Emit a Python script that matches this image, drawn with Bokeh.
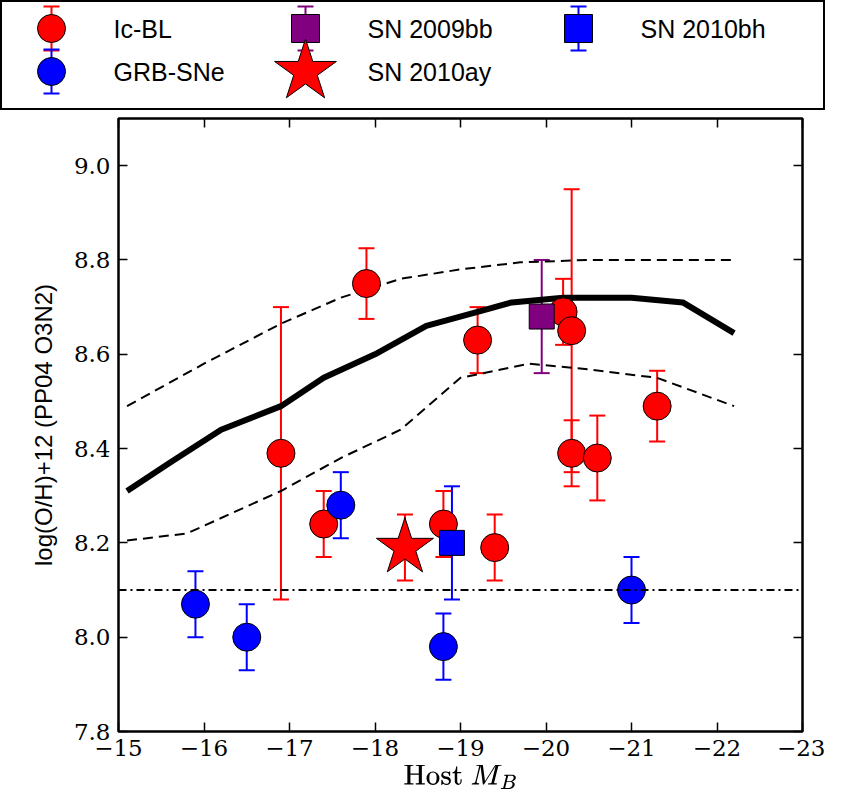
from bokeh.plotting import figure
from bokeh.models import (ColumnDataSource, Whisker, TeeHead, Range1d,
                          LinearAxis, CustomJSTickFormatter, FixedTicker, Span)
from bokeh.core.properties import value
from bokeh.layouts import column, row
from bokeh.embed import file_html
from bokeh.resources import INLINE

# Ic-BL
icbl_x = [-16.9, -17.4, -17.9, -18.8, -19.2, -19.4, -20.2, -20.3, -20.3, -20.6, -21.3]
icbl_y = [8.39, 8.24, 8.75, 8.24, 8.63, 8.19, 8.69, 8.65, 8.39, 8.38, 8.49]
icbl_lo = [8.08, 8.17, 8.675, 8.17, 8.56, 8.12, 8.62, 8.35, 8.32, 8.29, 8.415]
icbl_hi = [8.70, 8.31, 8.825, 8.31, 8.70, 8.26, 8.76, 8.95, 8.46, 8.47, 8.565]
# GRB-SNe
grb_x = [-15.9, -16.5, -17.6, -18.8, -21.0]
grb_y = [8.07, 8.00, 8.28, 7.98, 8.10]
grb_lo = [8.00, 7.93, 8.21, 7.91, 8.03]
grb_hi = [8.14, 8.07, 8.35, 8.05, 8.17]
# single objects
bb_x, bb_y, bb_lo, bb_hi = [-19.95], [8.68], [8.56], [8.80]
bh_x, bh_y, bh_lo, bh_hi = [-18.9], [8.20], [8.08], [8.32]
ay_x, ay_y, ay_lo, ay_hi = [-18.35], [8.19], [8.12], [8.26]
# mass-metallicity relation and scatter
rel_x = [-15.1, -15.6, -16.2, -16.9, -17.4, -18.0, -18.6, -19.2, -19.6, -20.2, -21.0, -21.6, -22.2]
rel_y = [8.31, 8.37, 8.44, 8.49, 8.55, 8.60, 8.66, 8.69, 8.71, 8.72, 8.72, 8.71, 8.645]
up_x = [-15.1, -16.0, -16.9, -17.6, -18.3, -19.0, -19.7, -20.5, -21.3, -22.2]
up_y = [8.49, 8.58, 8.665, 8.72, 8.76, 8.78, 8.795, 8.80, 8.80, 8.80]
lo_x = [-15.1, -15.8, -16.9, -17.6, -18.3, -19.0, -19.8, -20.4, -21.3, -22.2]
lo_y = [8.205, 8.22, 8.31, 8.38, 8.44, 8.55, 8.58, 8.57, 8.55, 8.49]
lmc_level = 8.1

x_ticks = [-15, -16, -17, -18, -19, -20, -21, -22, -23]
y_ticks = [7.8, 8.0, 8.2, 8.4, 8.6, 8.8, 9.0]
labels = ["Ic-BL", "GRB-SNe", "SN 2009bb", "SN 2010ay", "SN 2010bh"]

p = figure(width=825, height=692, output_backend="svg", toolbar_location=None,
           x_range=Range1d(-15, -23), y_range=Range1d(7.8, 9.1),
           min_border_left=118, min_border_right=23, min_border_bottom=71, min_border_top=8)
p.grid.visible = False
p.outline_line_color = "black"
p.outline_line_width = 2.5

serif = "DejaVu Serif"
p.xaxis.ticker = FixedTicker(ticks=x_ticks)
p.yaxis.ticker = FixedTicker(ticks=y_ticks)
p.xaxis.formatter = CustomJSTickFormatter(code="return '\u2212' + Math.abs(tick)")
p.yaxis.formatter = CustomJSTickFormatter(code="return tick.toFixed(1)")
for ax in [p.xaxis[0], p.yaxis[0]]:
    ax.major_tick_in = 9
    ax.major_tick_out = 0
    ax.minor_tick_line_color = None
    ax.major_label_text_font = serif
    ax.major_label_text_font_size = "23px"
    ax.major_label_text_color = "black"
    ax.major_label_standoff = 8
    ax.axis_line_color = None
    ax.major_tick_line_width = 1.5
    ax.axis_label_text_font = "Liberation Sans"
    ax.axis_label_text_font_style = "normal"
    ax.axis_label_text_font_size = "24px"
    ax.axis_label_text_color = "black"
p.xaxis.axis_label = r"Host $$M_B$$"
p.yaxis.axis_label = "log(O/H)+12 (PP04 O3N2)"
p.xaxis.axis_label_standoff = 6
p.yaxis.axis_label_standoff = 14

for loc, tk in [("above", x_ticks), ("right", y_ticks)]:
    a = LinearAxis(ticker=FixedTicker(ticks=tk), major_label_text_font_size="0px",
                   major_tick_in=9, major_tick_out=0, minor_tick_line_color=None,
                   axis_line_color=None, major_tick_line_width=1.5)
    p.add_layout(a, loc)

p.add_layout(Span(location=lmc_level, dimension="width", line_color="black",
                  line_width=2, line_dash="8 4 2 4"))
p.line(rel_x, rel_y, line_color="black", line_width=6)
p.line(up_x, up_y, line_color="black", line_width=2, line_dash="10 6")
p.line(lo_x, lo_y, line_color="black", line_width=2, line_dash="10 6")

# legend drawn in its own little figure (pixel coordinates)
lg = figure(width=825, height=110, output_backend="svg", toolbar_location=None,
            x_range=Range1d(0, 825), y_range=Range1d(0, 110), min_border=0)
lg.axis.visible = False
lg.grid.visible = False
lg.outline_line_color = "black"
lg.outline_line_width = 3

leg_gx = [51, 51, 305, 305, 578]
leg_gy = [82, 39, 82, 39, 82]

styles = []


def group(x, y, lo, hi, color, marker, size):
    src = ColumnDataSource(dict(x=x, y=y, lo=lo, hi=hi))
    w = Whisker(source=src, base="x", lower="lo", upper="hi", dimension="height",
                line_color=color, line_width=2,
                upper_head=TeeHead(size=16, line_color=color, line_width=2),
                lower_head=TeeHead(size=16, line_color=color, line_width=2))
    p.add_layout(w)
    p.scatter("x", "y", source=src, marker=marker, size=size,
              fill_color=color, line_color="black", line_width=1)
    styles.append((color, marker, size))


group(icbl_x, icbl_y, icbl_lo, icbl_hi, "red", "circle", 28)
group(grb_x, grb_y, grb_lo, grb_hi, "blue", "circle", 28)
group(bb_x, bb_y, bb_lo, bb_hi, "purple", "square", 25)
group(ay_x, ay_y, ay_lo, ay_hi, "red", "star", 60)
group(bh_x, bh_y, bh_lo, bh_hi, "blue", "square", 25)

for (color, marker, size), gx, gy, lab in zip(styles, leg_gx, leg_gy, labels):
    if marker != "star":
        lg.segment([gx], [gy - 22], [gx], [gy + 22], line_color=color, line_width=2)
        lg.segment([gx - 8, gx - 8], [gy - 22, gy + 22], [gx + 8, gx + 8], [gy - 22, gy + 22],
                   line_color=color, line_width=2)
        gsize = 28
    else:
        gsize = 65
    lg.scatter([gx], [gy], marker=marker, size=gsize, fill_color=color,
               line_color="black", line_width=1)
    lg.text([gx + 62], [gy], text=[lab], text_font=value("Liberation Sans"),
            text_font_size="25px", text_baseline="middle", text_color="black")

open("out.html", "w").write(file_html(column(row(lg), p, spacing=0), INLINE))
